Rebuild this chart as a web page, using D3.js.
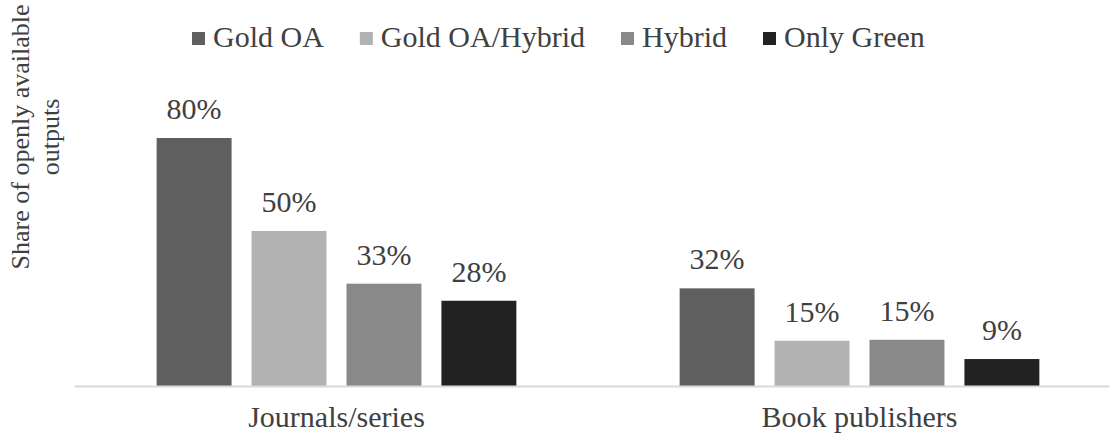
<!DOCTYPE html>
<html>
<head>
<meta charset="utf-8">
<script src="https://cdn.jsdelivr.net/npm/d3@7"></script>
<style>
  body { margin: 0; background: #fff; }
  text { font-family: "Liberation Serif", "Times New Roman", serif; fill: #404040; }
</style>
</head>
<body>
<svg id="chart" width="1109" height="435"></svg>
<script>
// chart data
var categories = ["Journals/series", "Book publishers"];
var seriesNames = ["Gold OA", "Gold OA/Hybrid", "Hybrid", "Only Green"];
var goldOA = [0.80, 0.315];
var goldHybrid = [0.50, 0.146];
var hybrid = [0.33, 0.149];
var onlyGreen = [0.275, 0.087];
var colors = ["#5f5f5f", "#b2b2b2", "#898989", "#222222"];

var allSeries = [goldOA, goldHybrid, hybrid, onlyGreen];

var svg = d3.select("#chart"),
  width = 1109,
  height = 435;

var margin = { left: 75, right: -12, top: 138, bottom: 49 };

var x0 = d3.scaleBand()
  .domain(categories)
  .range([margin.left, width - margin.right])
  .paddingInner(0)
  .paddingOuter(0);

var x1 = d3.scaleBand()
  .domain(seriesNames)
  .range([0, x0.bandwidth()])
  .paddingInner(20 / 95)
  .paddingOuter(0.86);

var y = d3.scaleLinear()
  .domain([0, 0.80])
  .range([height - margin.bottom, margin.top]);

var format = d3.format(".0%");

// rows for drawing
var rows = [];
categories.forEach(function (c, i) {
  seriesNames.forEach(function (s, j) {
    rows.push({ cat: c, series: s, value: allSeries[j][i], color: colors[j] });
  });
});

var g = svg.append("g");

g.selectAll("rect.bar")
  .data(rows)
  .enter().append("rect")
  .attr("class", "bar")
  .attr("x", function (d) { return x0(d.cat) + x1(d.series); })
  .attr("y", function (d) { return y(d.value); })
  .attr("width", x1.bandwidth())
  .attr("height", function (d) { return y(0) - y(d.value); })
  .attr("fill", function (d) { return d.color; });

g.selectAll("text.val")
  .data(rows)
  .enter().append("text")
  .attr("class", "val")
  .attr("x", function (d) { return x0(d.cat) + x1(d.series) + x1.bandwidth() / 2; })
  .attr("y", function (d) { return y(d.value) - 19; })
  .attr("text-anchor", "middle")
  .attr("font-size", 30)
  .text(function (d) { return format(d.value); });

// baseline
g.append("line")
  .attr("x1", margin.left)
  .attr("x2", width)
  .attr("y1", y(0) + 0.5)
  .attr("y2", y(0) + 0.5)
  .attr("stroke", "#d9d9d9")
  .attr("stroke-width", 2);

// category axis
var xAxis = g.append("g")
  .attr("transform", "translate(0," + y(0) + ")")
  .call(d3.axisBottom(x0).tickSize(0).tickPadding(20));
xAxis.select(".domain").remove();
xAxis.selectAll("text")
  .attr("font-size", 30)
  .attr("font-family", "Liberation Serif, serif")
  .attr("fill", "#404040")
  .attr("dy", "0.71em");

// y axis title
var yTitle = svg.append("text")
  .attr("transform", "translate(0,137) rotate(-90)")
  .attr("text-anchor", "middle")
  .attr("font-size", 26);
yTitle.append("tspan").attr("x", 0).attr("y", 29).text("Share of openly available");
yTitle.append("tspan").attr("x", 0).attr("y", 59).text("outputs");

// legend
var legend = svg.append("g").attr("class", "legend");
var lx = 192;
seriesNames.forEach(function (s, i) {
  legend.append("rect")
    .attr("x", lx)
    .attr("y", 32)
    .attr("width", 13)
    .attr("height", 13)
    .attr("fill", colors[i]);
  var t = legend.append("text")
    .attr("x", lx + 21)
    .attr("y", 47)
    .attr("font-size", 30)
    .text(s);
  lx = lx + 21 + t.node().getComputedTextLength() + 36;
});
</script>
</body>
</html>
